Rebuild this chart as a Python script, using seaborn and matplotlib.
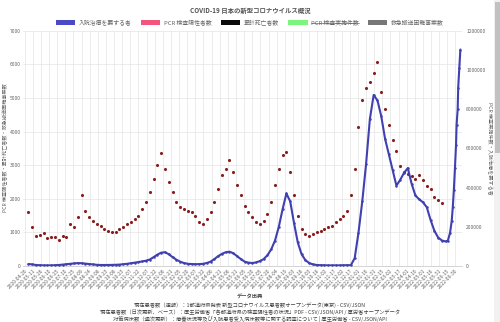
import numpy as np
import pandas as pd
import matplotlib
matplotlib.use("Agg")
import matplotlib.pyplot as plt
import matplotlib.dates as mdates
import matplotlib.ticker as mticker
from matplotlib.patches import Patch, Rectangle
from matplotlib.lines import Line2D
import seaborn as sns

# ---------------- data ----------------
title = "COVID-19 日本の新型コロナウイルス概況"
legend_labels = ["入院治療を要する者", "PCR 検査陽性者数", "累計死亡者数", "PCR 検査実施件数", "救急搬送困難事案数"]
legend_colors = ["#4a4ac4", "#f2557e", "#0a0a0a", "#7cf57c", "#777777"]

week_start = "2020-05-03"
emergency_cases = [
    1610, 1170, 900, 910, 990, 830, 860, 870, 780, 900,
    850, 1250, 1150, 1450, 2100, 1650, 1450, 1350, 1250, 1200,
    1100, 1050, 1000, 1000, 1100, 1150, 1250, 1300, 1400, 1500,
    1700, 1900, 2200, 2600, 3000, 3350, 2900, 2500, 2200, 1900,
    1750, 1700, 1650, 1600, 1500, 1300, 1250, 1400, 1600, 1900,
    2300, 2700, 2900, 3150, 2800, 2400, 2100, 1800, 1600, 1450,
    1300, 1250, 1350, 1550, 1900, 2400, 2900, 3300, 3400, 2800,
    2100, 1500, 1100, 950, 900, 950, 1000, 1050, 1100, 1150,
    1200, 1300, 1400, 1500, 1650, 2100, 2880, 4150, 4945, 5290,
    5470, 5740, 6070, 5190, 4670, 4200, 3750, 3430, 2980, 2800,
    2750, 2680, 2600, 2700, 2560, 2380, 2290, 2060, 1950, 1880,
]
hosp_weekly = [
    10000, 8000, 5000, 4000, 3000, 3000, 3000, 4000, 5000, 7000,
    9000, 11000, 13000, 14500, 14000, 12000, 10000, 8000, 6000, 5000,
    5000, 5000, 5500, 6000, 7000, 9000, 11000, 14000, 17000, 20000,
    23000, 27000, 33000, 45000, 58000, 68000, 70000, 60000, 45000, 32000,
    22000, 15000, 11000, 10000, 9000, 9500, 11000, 15000, 22000, 35000,
    50000, 62000, 70000, 73000, 65000, 50000, 35000, 22000, 17000, 15000,
    18000, 25000, 35000, 55000, 85000, 130000, 200000, 290000, 370000, 330000,
    220000, 120000, 60000, 30000, 15000, 8000, 5000, 4000, 3500, 3000,
    3000, 3000, 3000, 3500, 4000, 4000, 40000, 170000, 330000, 520000,
    750000, 873000, 845000, 765000, 650000, 570000, 490000, 410000, 440000, 475000,
    500000, 420000, 360000, 340000, 325000, 300000, 235000, 180000, 145000, 130000,
]
hosp_late_dates = ["2022-06-12", "2022-06-16", "2022-06-20", "2022-06-23", "2022-06-25",
                   "2022-06-27", "2022-06-29", "2022-07-01", "2022-07-02", "2022-07-04",
                   "2022-07-05", "2022-07-07", "2022-07-09"]
hosp_late_values = [125000, 130000, 170000, 230000, 300000,
                    390000, 500000, 620000, 720000, 800000,
                    910000, 1010000, 1105000]

tick_start, tick_end = "2020-04-26", "2022-07-10"
left_ticks = [0, 1000, 2000, 3000, 4000, 5000, 6000, 7000]
right_ticks = [0, 200000, 400000, 600000, 800000, 1000000, 1200000]

left_label = "PCR 検査陽性者数・累計死亡者数・救急搬送困難事案数"
right_label = "PCR 検査実施件数・入院治療を要する者"
footer_lines = [
    "データ出典",
    "現在患者数（速報）：1都道府県発表 新型コロナウイルス患者数オープンデータ(東京) - CSV/JSON",
    "現在患者数（日次更新、ベース）：厚生労働省「各都道府県の検査陽性者の状況」PDF - CSV/JSON/API / 厚労省オープンデータ",
    "対策病床数（週次更新）：療養状況等及び入院患者受入病床数等に関する調査について | 厚生労働省 - CSV/JSON/API",
]

# ---------------- frames ----------------
weeks = pd.date_range(week_start, periods=len(emergency_cases), freq="7D")
df_em = pd.DataFrame({"date": weeks, "value": emergency_cases})
df_h = pd.DataFrame({
    "date": list(weeks[:len(hosp_weekly)]) + list(pd.to_datetime(hosp_late_dates)),
    "value": hosp_weekly + hosp_late_values,
})

# ---------------- style ----------------
sns.set_theme(style="white")
plt.rcParams["font.family"] = ["Noto Sans CJK JP", "DejaVu Sans"]
gray = "#666666"

fig = plt.figure(figsize=(5.0, 3.22), dpi=100)
fig.patch.set_facecolor("white")
ax = fig.add_axes([0.046, 0.174, 0.878, 0.730])
ax2 = ax.twinx()

sns.scatterplot(data=df_em, x="date", y="value", ax=ax, color="#8b1c1c",
                s=5, linewidth=0, zorder=3, legend=False)
sns.lineplot(data=df_h, x="date", y="value", ax=ax2, color="#4040b0",
             linewidth=1.5, marker="o", markersize=1.8, markeredgewidth=0,
             legend=False, zorder=4)

xmin, xmax = pd.Timestamp("2020-04-23"), pd.Timestamp("2022-07-12")
ax.set_xlim(xmin, xmax)
ax.set_ylim(0, 7000)
ax2.set_ylim(0, 1200000)

xt = pd.date_range(tick_start, tick_end, freq="15D")
ax.set_xticks(xt)
ax.set_xticklabels([d.strftime("%Y-%m-%d") for d in xt], rotation=45, ha="right",
                   rotation_mode="anchor", fontsize=3.6, color=gray)
ax.set_yticks(left_ticks)
ax.set_yticklabels([str(v) for v in left_ticks], fontsize=3.6, color=gray)
ax2.set_yticks(right_ticks)
ax2.set_yticklabels([str(v) for v in right_ticks], fontsize=3.6, color=gray)

ax.tick_params(axis="both", length=0, pad=1.5)
ax2.tick_params(axis="both", length=0, pad=3)
ax.grid(True, color="#e4e4e4", linewidth=0.5)
for a in (ax, ax2):
    for s in a.spines.values():
        s.set_visible(False)
ax.spines["bottom"].set_visible(True)
ax.spines["bottom"].set_color("#cccccc")
ax.spines["bottom"].set_linewidth(0.6)
ax.set_xlabel("")
ax.set_ylabel("")
ax2.set_xlabel("")
ax2.set_ylabel("")

fig.text(0.011, 0.54, left_label, rotation=90, ha="center", va="center",
         fontsize=3.7, color=gray)
fig.text(0.978, 0.54, right_label, rotation=270, ha="center", va="center",
         fontsize=3.7, color=gray)

fig.text(0.5, 0.968, title, ha="center", va="center", fontsize=4.6,
         fontweight="bold", color="#555555")

handles = [Patch(facecolor=c, edgecolor="none") for c in legend_colors]
leg = fig.legend(handles, legend_labels, loc="center", bbox_to_anchor=(0.5, 0.930),
                 ncol=5, frameon=False, fontsize=4.2, handlelength=3.3,
                 handleheight=1.0, columnspacing=1.6, handletextpad=0.6,
                 labelcolor=gray)

# footer
ys = [0.076, 0.051, 0.030, 0.008]
for i, (line, y) in enumerate(zip(footer_lines, ys)):
    fig.text(0.5, y, line, ha="center", va="center", fontsize=3.8,
             color="#444444", fontweight="bold" if i == 0 else "normal")

# scrollbar of the screenshot
fig.add_artist(Rectangle((0.987, 0.0), 0.013, 1.0, transform=fig.transFigure,
                         facecolor="#f1f1f1", edgecolor="none", zorder=0))
fig.add_artist(Rectangle((0.989, 0.525), 0.010, 0.47, transform=fig.transFigure,
                         facecolor="#c1c1c1", edgecolor="none", zorder=0))

# strike through hidden series label
fig.canvas.draw()
t = leg.get_texts()[3]
bb = t.get_window_extent().transformed(fig.transFigure.inverted())
ym = (bb.y0 + bb.y1) / 2
fig.add_artist(Line2D([bb.x0, bb.x1], [ym, ym], transform=fig.transFigure,
                      color=gray, linewidth=0.5))

fig.savefig("out.png", dpi=100)
